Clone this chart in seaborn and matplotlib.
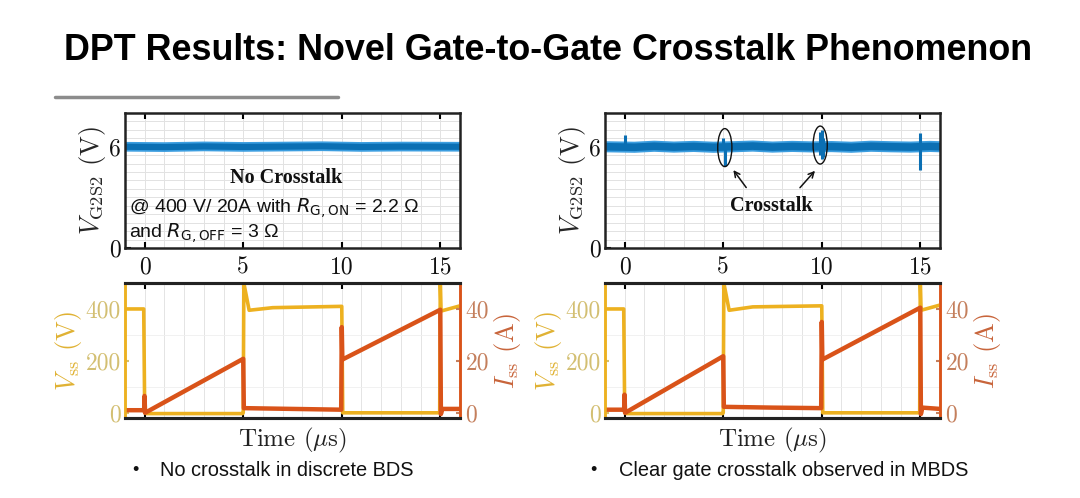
import pandas as pd
import seaborn as sns
import matplotlib.pyplot as plt
from matplotlib.lines import Line2D
from matplotlib.patches import Ellipse
from matplotlib.ticker import MultipleLocator, FixedLocator

sns.set_theme(style="white")
plt.rcParams["mathtext.fontset"] = "cm"
plt.rcParams["axes.unicode_minus"] = False
plt.rcParams["text.color"] = "#111111"

# ---------------- data ----------------
# gate voltage V_G2S2 (V), discrete BDS (left) - flat band
vg_left_t = [-1, 1.0, 3.0, 5.0, 7.0, 9.0, 11.0, 13.0, 16]
vg_left_v = [6.0, 5.98, 6.02, 5.99, 6.01, 6.03, 5.99, 6.01, 6.0]

# gate voltage V_G2S2 (V), MBDS (right) - noisy band plus crosstalk spikes
vg_right_t = [-1, 0.5, 1.5, 2.5, 3.5, 4.5, 5.5, 6.5, 7.5, 8.5, 9.5, 10.5, 11.5, 12.5, 13.5, 14.5, 15.5, 16]
vg_right_v = [6.0, 5.97, 6.03, 5.98, 6.02, 5.97, 6.0, 6.04, 5.98, 6.02, 5.99, 6.01, 5.97, 6.03, 6.0, 5.98, 6.02, 6.0]
spike_t = [0.0, 5.0, 5.1, 9.9, 10.0, 10.05, 15.0]
spike_lo = [5.9, 5.9, 4.85, 5.5, 5.3, 5.4, 4.6]
spike_hi = [6.7, 6.5, 6.1, 6.9, 7.0, 6.5, 6.8]

# drain-source voltage V_ss (V)
vss_left_t = [-1, -0.05, 0.0, 0.1, 4.97, 5.0, 5.03, 5.3, 6.5, 9.97, 10.0, 10.05, 14.97, 15.0, 15.04, 16]
vss_left_v = [400, 400, 0, -3, -3, 0, 500, 395, 405, 410, 410, 0, 0, 500, 392, 412]
vss_right_t = [-1, -0.05, 0.0, 0.1, 4.97, 5.0, 5.03, 5.3, 6.5, 9.97, 10.0, 10.05, 14.97, 15.0, 15.04, 16]
vss_right_v = [400, 400, 0, -3, -3, 0, 500, 395, 408, 412, 412, 0, 0, 500, 395, 415]

# drain current I_ss (A)
iss_left_t = [-1, -0.03, -0.01, 0.02, 5.0, 5.03, 7.5, 9.97, 10.0, 10.03, 15.0, 15.03, 15.1, 16]
iss_left_i = [1.0, 1.0, 6.5, 0.0, 20.8, 1.8, 1.5, 1.2, 33.0, 20.5, 39.7, -0.5, 1.5, 1.5]
iss_right_t = [-1, -0.03, -0.01, 0.02, 5.0, 5.03, 7.5, 9.97, 10.0, 10.03, 15.0, 15.03, 15.1, 16]
iss_right_i = [1.2, 1.2, 7.0, 0.0, 21.8, 2.3, 2.0, 1.8, 35.0, 20.5, 40.5, -0.5, 2.0, 1.5]

x_ticks = [0, 5, 10, 15]

# ---------------- colours ----------------
BLUE_EDGE = "#3c9ee0"
BLUE = "#0b6fb3"
YELLOW = "#EDB120"
ORANGE = "#D95319"
YTICK_COL = "#d3bf72"
ITICK_COL = "#c47f5c"
SERIF = "cmr10"

W, H = 1080, 498
fig = plt.figure(figsize=(W / 100, H / 100), dpi=100)


def frac(x0, y0, x1, y1):
    return [x0 / W, 1 - y1 / H, (x1 - x0) / W, (y1 - y0) / H]


def style_ticks(ax, size=17):
    for lab in ax.get_xticklabels() + ax.get_yticklabels():
        lab.set_fontfamily(SERIF)
        lab.set_fontsize(size)


def gate_panel(ax, t, v, band=7):
    df = pd.DataFrame({"t": t, "v": v})
    sns.lineplot(data=df, x="t", y="v", ax=ax, color=BLUE_EDGE, lw=band,
                 estimator=None, sort=False, solid_capstyle="butt")
    sns.lineplot(data=df, x="t", y="v", ax=ax, color=BLUE, lw=band - 2.5,
                 estimator=None, sort=False, solid_capstyle="butt")
    ax.set_xlim(-1, 16)
    ax.set_ylim(0, 8)
    ax.xaxis.set_major_locator(FixedLocator(x_ticks))
    ax.yaxis.set_major_locator(FixedLocator([0, 6]))
    ax.xaxis.set_minor_locator(MultipleLocator(1))
    ax.yaxis.set_minor_locator(MultipleLocator(0.5))
    ax.grid(which="both", color="#e2e2e2", lw=0.7)
    ax.set_axisbelow(True)
    ax.tick_params(which="major", direction="in", length=4, width=1.5,
                   top=True, bottom=True, left=True, color="black", labelcolor="#111111", pad=6)
    ax.tick_params(axis="y", which="major", pad=3)
    ax.tick_params(which="minor", length=0)
    for s in ax.spines.values():
        s.set_color("#222222")
        s.set_linewidth(1.8)
    ax.set_xlabel("")
    ax.set_ylabel(r"$V_{\mathrm{G2S2}}$ (V)", fontsize=19, family=SERIF, labelpad=1)
    style_ticks(ax)


def power_panel(ax, t, v, ti, i):
    dfv = pd.DataFrame({"t": t, "v": v})
    dfi = pd.DataFrame({"t": ti, "i": i})
    sns.lineplot(data=dfv, x="t", y="v", ax=ax, color=YELLOW, lw=2.6,
                 estimator=None, sort=False, zorder=3)
    ax.set_xlim(-1, 16)
    ax.set_ylim(-20, 500)
    ax.xaxis.set_major_locator(FixedLocator(x_ticks))
    ax.xaxis.set_minor_locator(MultipleLocator(1))
    ax.yaxis.set_major_locator(FixedLocator([0, 200, 400]))
    ax.yaxis.set_minor_locator(MultipleLocator(100))
    ax.grid(which="both", axis="x", color="#e4e4e4", lw=0.7)
    ax.grid(which="minor", axis="y", color="#efefef", lw=0.6)
    ax.set_axisbelow(True)
    ax.tick_params(axis="x", which="major", direction="in", length=4, width=1.5,
                   top=True, bottom=True, labelbottom=False, color="black")
    ax.tick_params(axis="y", which="major", direction="in", length=3, width=1.5,
                   colors=YTICK_COL, pad=3)
    ax.tick_params(which="minor", length=0)
    ax.set_xlabel(r"Time ($\mu$s)", fontsize=18, family=SERIF, color="#222222", labelpad=2)
    ax.set_ylabel(r"$V_{\mathrm{ss}}$ (V)", fontsize=19, family=SERIF, color="#e0b233", labelpad=1)

    ax2 = ax.twinx()
    sns.lineplot(data=dfi, x="t", y="i", ax=ax2, color=ORANGE, lw=3.2,
                 estimator=None, sort=False)
    ax2.set_ylim(-2, 50)
    ax2.yaxis.set_major_locator(FixedLocator([0, 20, 40]))
    ax2.tick_params(axis="y", direction="in", length=3, width=1.5,
                    colors=ITICK_COL, pad=4)
    ax2.set_ylabel(r"$I_{\mathrm{ss}}$ (A)", fontsize=19, family=SERIF, color="#c8643a", labelpad=2)
    ax2.set_xlabel("")
    ax2.grid(False)
    for a in (ax, ax2):
        a.spines["top"].set_color("#222222")
        a.spines["bottom"].set_color("#222222")
        a.spines["top"].set_linewidth(2.2)
        a.spines["bottom"].set_linewidth(2.2)
        a.spines["left"].set_color(YELLOW)
        a.spines["right"].set_color(ORANGE)
        a.spines["left"].set_linewidth(1.8)
        a.spines["right"].set_linewidth(1.8)
    style_ticks(ax)
    style_ticks(ax2)
    return ax2


# ---------------- left column: discrete BDS ----------------
ax_tl = fig.add_axes(frac(125, 113, 460, 248))
gate_panel(ax_tl, vg_left_t, vg_left_v)
ax_tl.text(7.16, 4.17, "No Crosstalk", ha="center", va="center", fontsize=14.5,
           family="Liberation Serif", weight="bold", color="#111111")
ax_tl.text(-0.82, 2.38, r"@ 400 V/ 20A with $R_{\mathrm{G,ON}}$ = 2.2 Ω", ha="left", va="center",
           fontsize=14, family="Liberation Sans", math_fontfamily="dejavusans", color="#111111")
ax_tl.text(-0.82, 0.9, r"and $R_{\mathrm{G,OFF}}$ = 3 Ω", ha="left", va="center",
           fontsize=14, family="Liberation Sans", math_fontfamily="dejavusans", color="#111111")

ax_bl = fig.add_axes(frac(125, 283, 460, 418))
power_panel(ax_bl, vss_left_t, vss_left_v, iss_left_t, iss_left_i)

# ---------------- right column: MBDS ----------------
ax_tr = fig.add_axes(frac(605, 113, 940, 248))
gate_panel(ax_tr, vg_right_t, vg_right_v, band=8)
ax_tr.vlines(spike_t, spike_lo, spike_hi, color=BLUE, lw=2.2, zorder=4)
for cx, cy in [(5.08, 5.95), (9.92, 6.1)]:
    ax_tr.add_patch(Ellipse((cx, cy), 0.72, 2.25, fill=False, ec="#111111", lw=1.0, zorder=5))
ax_tr.text(7.46, 2.5, "Crosstalk", ha="center", va="center", fontsize=14.5,
           family="Liberation Serif", weight="bold", color="#111111")
ax_tr.annotate("", xy=(5.43, 4.75), xytext=(6.25, 3.45),
               arrowprops=dict(arrowstyle="->", color="#111111", lw=1.1, mutation_scale=10))
ax_tr.annotate("", xy=(9.75, 4.7), xytext=(8.8, 3.45),
               arrowprops=dict(arrowstyle="->", color="#111111", lw=1.1, mutation_scale=10))

ax_br = fig.add_axes(frac(605, 283, 940, 418))
power_panel(ax_br, vss_right_t, vss_right_v, iss_right_t, iss_right_i)

# ---------------- slide text ----------------
fig.text(548 / W, 1 - 51 / H, "DPT Results: Novel Gate-to-Gate Crosstalk Phenomenon",
         ha="center", va="center", fontsize=25.8, weight="bold", family="Liberation Sans",
         color="black")
fig.add_artist(Line2D([55 / W, 338 / W], [1 - 97 / H, 1 - 97 / H], color="#8c8c8c", lw=2.5))

fig.text(132 / W, 1 - 470 / H, "•", ha="left", va="center", fontsize=13, family="Liberation Sans")
fig.text(160 / W, 1 - 470 / H, "No crosstalk in discrete BDS", ha="left", va="center",
         fontsize=14.4, family="Liberation Sans", color="#111111")
fig.text(590 / W, 1 - 470 / H, "•", ha="left", va="center", fontsize=13, family="Liberation Sans")
fig.text(619 / W, 1 - 470 / H, "Clear gate crosstalk observed in MBDS", ha="left", va="center",
         fontsize=14.4, family="Liberation Sans", color="#111111")

fig.savefig("out.png", dpi=100, facecolor="white")
